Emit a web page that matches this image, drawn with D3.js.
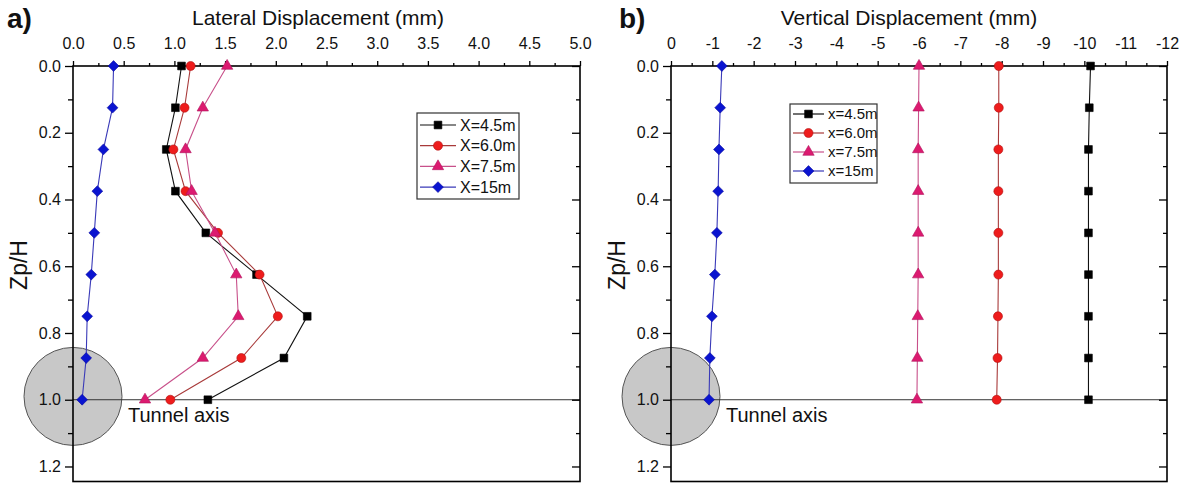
<!DOCTYPE html>
<html><head><meta charset="utf-8">
<script src="https://cdn.jsdelivr.net/npm/d3@7"></script>
<style>
html,body{margin:0;padding:0;background:#fff;}
svg{display:block;font-family:"Liberation Sans",Arial,sans-serif;}
</style></head>
<body><svg id="chart" width="1189" height="484"></svg>
<script>
// ---- data ----
const zp = [0, 0.125, 0.25, 0.375, 0.5, 0.625, 0.75, 0.875, 1.0];
const latX45 = [1.07, 1.01, 0.92, 1.01, 1.31, 1.81, 2.31, 2.08, 1.33];
const latX60 = [1.16, 1.10, 0.99, 1.11, 1.43, 1.84, 2.02, 1.66, 0.96];
const latX75 = [1.52, 1.28, 1.11, 1.17, 1.40, 1.61, 1.63, 1.28, 0.71];
const latX15 = [0.40, 0.39, 0.30, 0.24, 0.21, 0.18, 0.14, 0.13, 0.09];
const verX45 = [-10.15, -10.12, -10.10, -10.10, -10.10, -10.10, -10.10, -10.10, -10.10];
const verX60 = [-7.93, -7.93, -7.92, -7.92, -7.92, -7.92, -7.91, -7.90, -7.88];
const verX75 = [-6.00, -5.99, -5.98, -5.98, -5.98, -5.98, -5.97, -5.96, -5.95];
const verX15 = [-1.23, -1.19, -1.16, -1.14, -1.11, -1.06, -0.99, -0.94, -0.92];
const latLabels = ["X=4.5m", "X=6.0m", "X=7.5m", "X=15m"];
const verLabels = ["x=4.5m", "x=6.0m", "x=7.5m", "x=15m"];
const latTicks = [0, 0.5, 1, 1.5, 2, 2.5, 3, 3.5, 4, 4.5, 5];
const verTicks = [0, -1, -2, -3, -4, -5, -6, -7, -8, -9, -10, -11, -12];
const yTicks = [0, 0.2, 0.4, 0.6, 0.8, 1.0, 1.2];

const styles = [
  {line:"#111", fill:"#000", stroke:"#000", sym:"square"},
  {line:"#a83a3a", fill:"#ee1c1c", stroke:"#b01010", sym:"circle"},
  {line:"#c8508a", fill:"#dc1a70", stroke:"#b0105a", sym:"triangle"},
  {line:"#3a3ab8", fill:"#0a14d0", stroke:"#0a0aa0", sym:"diamond"}
];

const svg = d3.select("#chart");

function markerPath(sym){
  if(sym==="square") return d3.symbol(d3.symbolSquare, 60)();
  if(sym==="circle") return d3.symbol(d3.symbolCircle, 64)();
  if(sym==="triangle") return d3.symbol(d3.symbolTriangle, 56)();
  return "M0,-5.4L5.4,0L0,5.4L-5.4,0Z";
}

function panel(opt){
  const g = svg.append("g");
  const x = d3.scaleLinear().domain(opt.xDomain).range([opt.left, opt.right]);
  const y = d3.scaleLinear().domain([0, 1.245]).range([66, 481.5]);

  // tunnel circle
  g.append("circle").attr("cx", x(0)).attr("cy", y(0.99)).attr("r", 49)
    .attr("fill", "#c8c8c8").attr("stroke", "#555").attr("stroke-width", 1);

  // tunnel axis line
  g.append("line").attr("x1", opt.left).attr("x2", opt.right)
    .attr("y1", y(1)).attr("y2", y(1)).attr("stroke", "#333").attr("stroke-width", 1);

  // axes
  const top = d3.axisTop(x).tickValues(opt.xTicks).tickSize(5).tickPadding(12)
    .tickFormat(opt.xFmt);
  const topMinor = d3.axisTop(x).tickValues(opt.xMinor).tickSize(3).tickFormat("");
  const left = d3.axisLeft(y).tickValues(yTicks).tickSize(8).tickPadding(4)
    .tickFormat(d3.format(".1f"));
  const leftMinor = d3.axisLeft(y).tickValues([0.1,0.3,0.5,0.7,0.9,1.1]).tickSize(5).tickFormat("");
  const right = d3.axisRight(y).tickValues(yTicks).tickSize(-8).tickFormat("");
  const rightMinor = d3.axisRight(y).tickValues([0.1,0.3,0.5,0.7,0.9,1.1]).tickSize(-4).tickFormat("");

  const styleAxis = sel => {
    sel.selectAll(".domain").remove();
    sel.selectAll(".tick line").attr("stroke", "#000").attr("stroke-width", 1.3);
    sel.selectAll(".tick text").attr("font-size", 16).attr("fill", "#111")
      .attr("font-family", "Liberation Sans, Arial, sans-serif");
  };
  g.append("g").attr("transform", `translate(0,66)`).call(top).call(styleAxis);
  g.append("g").attr("transform", `translate(0,66)`).call(topMinor).call(styleAxis);
  g.append("g").attr("transform", `translate(${opt.left},0)`).call(left).call(styleAxis);
  g.append("g").attr("transform", `translate(${opt.left},0)`).call(leftMinor).call(styleAxis);
  g.append("g").attr("transform", `translate(${opt.right},0)`).call(right).call(styleAxis);
  g.append("g").attr("transform", `translate(${opt.right},0)`).call(rightMinor).call(styleAxis);

  // frame
  g.append("rect").attr("x", opt.left).attr("y", 66)
    .attr("width", opt.right - opt.left).attr("height", 481.5 - 66)
    .attr("fill", "none").attr("stroke", "#000").attr("stroke-width", 1.6);

  // series
  const line = d3.line().x(d => x(d[0])).y(d => y(d[1]));
  opt.series.forEach((vals, i) => {
    const st = styles[i];
    const pts = vals.map((v, k) => [v, zp[k]]);
    g.append("path").datum(pts).attr("d", line).attr("fill", "none")
      .attr("stroke", st.line).attr("stroke-width", 1.1);
    g.selectAll(null).data(pts).join("path")
      .attr("transform", d => `translate(${x(d[0])},${y(d[1])})`)
      .attr("d", markerPath(st.sym))
      .attr("fill", st.fill).attr("stroke", st.stroke).attr("stroke-width", 0.6);
  });

  // legend
  const L = opt.legend;
  g.append("rect").attr("x", L.x).attr("y", L.y).attr("width", L.w).attr("height", L.h)
    .attr("fill", "#fff").attr("stroke", "#333").attr("stroke-width", 1.2);
  opt.labels.forEach((lab, i) => {
    const st = styles[i];
    const cy = L.y + L.first + i * L.step;
    g.append("line").attr("x1", L.x + 3).attr("x2", L.x + 3 + L.lineW)
      .attr("y1", cy).attr("y2", cy).attr("stroke", st.line).attr("stroke-width", 1.2);
    g.append("path").attr("transform", `translate(${L.x + 3 + L.lineW/2},${cy})`)
      .attr("d", markerPath(st.sym)).attr("fill", st.fill).attr("stroke", st.stroke).attr("stroke-width", 0.6);
    g.append("text").attr("x", L.x + L.textX).attr("y", cy).attr("dy", "0.35em")
      .attr("font-size", L.fs).attr("fill", "#111").text(lab);
  });

  // titles / labels
  g.append("text").attr("x", opt.titleX).attr("y", 25)
    .attr("text-anchor", "middle").attr("font-size", 21).attr("fill", "#111").text(opt.title);
  g.append("text").attr("x", opt.panelX).attr("y", 28)
    .attr("font-size", 28).attr("font-weight", "bold").attr("fill", "#111").text(opt.panel);
  g.append("text").attr("transform", `translate(${opt.left - 46},265) rotate(-90)`)
    .attr("text-anchor", "middle").attr("font-size", 23).attr("fill", "#111").text("Zp/H");
  g.append("text").attr("x", x(0) + 55).attr("y", 422)
    .attr("font-size", 20).attr("fill", "#111").text("Tunnel axis");
}

const hyphenInt = d => String(Math.round(d)).replace("\u2212", "-");

panel({
  left: 73, right: 580, xDomain: [0, 5], xTicks: latTicks,
  xMinor: [0.25, 0.75, 1.25, 1.75, 2.25, 2.75, 3.25, 3.75, 4.25, 4.75],
  xFmt: d3.format(".1f"),
  series: [latX45, latX60, latX75, latX15], labels: latLabels,
  legend: {x: 417, y: 113, w: 102, h: 86, first: 12, step: 20.7, lineW: 36, textX: 43, fs: 16},
  title: "Lateral Displacement (mm)", titleX: 318, panel: "a)", panelX: 7
});
panel({
  left: 671, right: 1167, xDomain: [0, -12], xTicks: verTicks,
  xMinor: d3.range(-0.5, -12, -1),
  xFmt: hyphenInt,
  series: [verX45, verX60, verX75, verX15], labels: verLabels,
  legend: {x: 790, y: 104, w: 87, h: 79, first: 10, step: 19, lineW: 31, textX: 38, fs: 15},
  title: "Vertical Displacement (mm)", titleX: 909, panel: "b)", panelX: 619
});
</script>
</body></html>
